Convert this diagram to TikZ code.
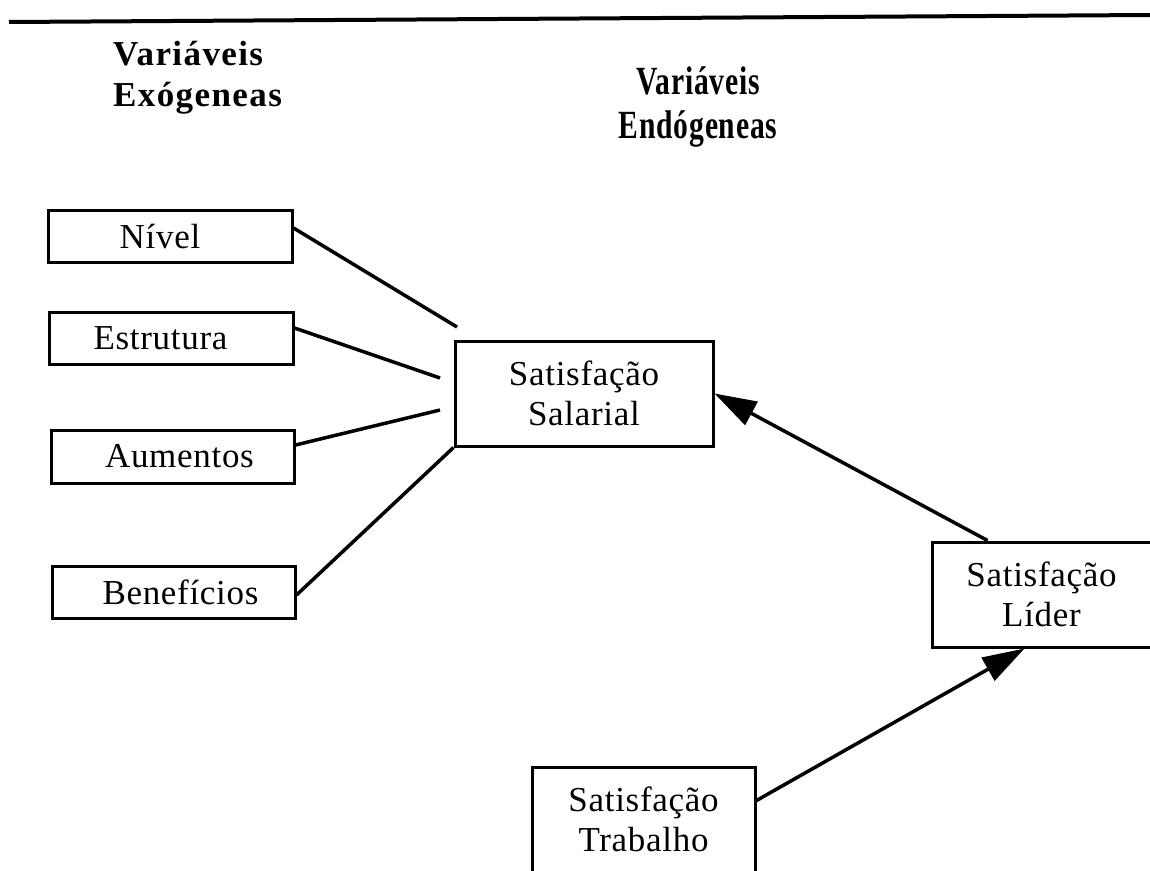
\documentclass[tikz,border=0pt]{standalone}
\usepackage{fontspec}
\setmainfont{Liberation Serif}
\newfontfamily\headfont[LetterSpace=4]{Liberation Serif}
\newfontfamily\headnarrow[FakeStretch=0.74,LetterSpace=2]{Liberation Serif}
\newfontfamily\boxfont[LetterSpace=2]{Liberation Serif}
\usetikzlibrary{arrows.meta}

\tikzset{
  frame/.style={draw, rectangle, line width=3pt, inner sep=0pt, align=center,
    font=\boxfont\fontsize{35}{40}\selectfont},
  link/.style={line width=3.5pt},
  arrowlink/.style={line width=3.5pt, -{Triangle[length=42pt,width=26pt]}},
  headtxt/.style={inner sep=0pt, font=\headfont\bfseries\fontsize{35}{41}\selectfont},
  headtall/.style={inner sep=0pt, font=\headnarrow\bfseries\fontsize{40}{44}\selectfont},
  rule/.style={line width=4pt}
}

\begin{document}
\begin{tikzpicture}[x=1pt, y=-1pt]
  \useasboundingbox (0,0) rectangle (1150,870);
  \clip (0,0) rectangle (1150,870);

  % top rule
  \coordinate (ruleL) at (9,22);
  \coordinate (ruleR) at (1150,15);
  \draw[rule] (ruleL) -- (ruleR);

  % column headings
  \node[headtxt, anchor=base west] (exoA) at (113,65) {Variáveis};
  \node[headtxt, anchor=base west] (exoB) at (113,106) {Exógeneas};
  \node[headtall, anchor=base] (endoA) at (698,94) {Variáveis};
  \node[headtall, anchor=base] (endoB) at (698,138) {Endógeneas};

  % exogenous variables
  \node[frame, minimum width=244pt, minimum height=52pt] (nivel) at (170,236) {Nível\hspace*{20pt}};
  \node[frame, minimum width=244pt, minimum height=52pt] (estrutura) at (171,338) {Estrutura\hspace*{21pt}};
  \node[frame, minimum width=243pt, minimum height=53pt] (aumentos) at (172.5,456.5) {\hspace*{14pt}Aumentos};
  \node[frame, minimum width=243pt, minimum height=52pt] (beneficios) at (173.5,592) {\hspace*{14pt}Benefícios};

  % endogenous variables
  \node[frame, minimum width=258pt, minimum height=105pt] (salarial) at (584,393.5) {Satisfação\\Salarial};
  \node[frame, minimum width=219pt, minimum height=105pt] (lider) at (1041.5,594.5) {Satisfação\\Líder};
  \node[frame, minimum width=223pt, minimum height=105pt] (trabalho) at (643.5,819.5) {Satisfação\\Trabalho};

  % free ends of the exogenous links
  \coordinate (nivelEnd) at (457,327);
  \coordinate (estrEnd) at (440,378);
  \coordinate (aumEnd) at (440,410);

  \draw[link] ([yshift=8pt]nivel.east) -- (nivelEnd);
  \draw[link] ([yshift=10pt]estrutura.east) -- (estrEnd);
  \draw[link] ([yshift=11.5pt]aumentos.east) -- (aumEnd);
  \draw[link] ([yshift=-3pt]beneficios.east) -- (salarial.south west);

  % causal paths
  \draw[arrowlink] ([xshift=-54pt]lider.north) -- (salarial.east);
  \draw[arrowlink] ([yshift=19pt]trabalho.east) -- ([xshift=-17pt]lider.south);
\end{tikzpicture}
\end{document}
